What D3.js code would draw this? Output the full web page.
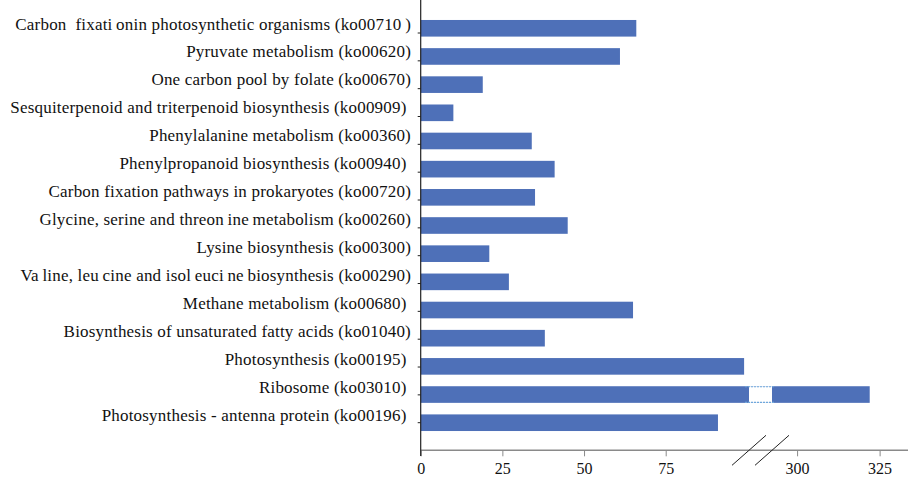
<!DOCTYPE html>
<html>
<head>
<meta charset="utf-8">
<script src="https://cdn.jsdelivr.net/npm/d3@7"></script>
<style>
  body { margin: 0; background: #fff; }
  text { font-family: "Liberation Serif", "Times New Roman", serif; fill: #111; }
</style>
</head>
<body>
<svg id="chart" width="909" height="477"></svg>
<script>
// pathway labels, top to bottom (odd gaps of the original kept as thin spaces)
var pathways = [
    "Carbon  fixati\u2009onin photosynthetic organisms (ko00710\u2009)",
    "Pyruvate metabolism (ko00620)",
    "One carbon pool by folate (ko00670)",
    "Sesquiterpenoid and triterpenoid biosynthesis (ko00909) ",
    "Phenylalanine metabolism (ko00360)",
    "Phenylpropanoid biosynthesis (ko00940) ",
    "Carbon fixation pathways in prokaryotes (ko00720)",
    "Glycine, serine and threon\u2009ine\u2009metabolism (ko00260)",
    "Lysine biosynthesis (ko00300)",
    "Va\u2009line, leu\u2009cine and isol\u2009euci\u2009ne\u2009biosynthesis (ko00290)",
    "Methane metabolism (ko00680) ",
    "Biosynthesis of unsaturated fatty acids (ko01040)",
    "Photosynthesis (ko00195) ",
    "Ribosome (ko03010) ",
    "Photosynthesis - antenna protein (ko00196) "
];
var geneCounts = [66, 61, 19, 10, 34, 41, 35, 45, 21, 27, 65, 38, 99, 322, 91];
var xTicks = [0, 25, 50, 75, 300, 325];
// broken axis: 100.5 .. 292.4 is skipped
var breakFrom = 100.5, breakTo = 292.4;

var svg = d3.select("#chart");
var barColor = "#4E70B8";

// piecewise scale with the gap in the middle
var x = d3.scaleLinear()
    .domain([0, breakFrom, breakTo, 333.6])
    .range([420.7, 749, 772, 908]);

var y = d3.scaleBand()
    .domain(pathways)
    .range([14.2, 436.8])
    .paddingInner(0.41)
    .paddingOuter(0.205);

// labels and tick marks sit on a slightly different pitch than bars
var yLabel = d3.scalePoint().domain(pathways).range([29.5, 421]);
var yTick = d3.scalePoint().domain(pathways).range([33, 422.7]);

var data = pathways.map(function(p, i) { return {name: p, v: geneCounts[i]}; });

// bars
svg.append("g").selectAll("rect")
    .data(data)
    .enter()
    .append("rect")
    .attr("x", x(0))
    .attr("y", d => y(d.name))
    .attr("width", d => x(d.v) - x(0))
    .attr("height", y.bandwidth())
    .attr("fill", barColor);

// the gap in the long bar (dotted edges)
var longBars = data.filter(d => d.v > breakTo);
var gap = svg.append("g");
gap.selectAll(".gapfill").data(longBars).enter().append("rect")
    .attr("x", x(breakFrom))
    .attr("y", d => y(d.name))
    .attr("width", x(breakTo) - x(breakFrom))
    .attr("height", y.bandwidth())
    .attr("fill", "#fff");
gap.selectAll(".gaptop").data(longBars).enter().append("line")
    .attr("x1", x(breakFrom) - 4).attr("x2", x(breakTo) + 2)
    .attr("y1", d => y(d.name) + 0.5).attr("y2", d => y(d.name) + 0.5)
    .attr("stroke", "#6fa8dc").attr("stroke-width", 1.2)
    .attr("stroke-dasharray", "2,1");
gap.selectAll(".gapbot").data(longBars).enter().append("line")
    .attr("x1", x(breakFrom) - 4).attr("x2", x(breakTo) + 2)
    .attr("y1", d => y(d.name) + y.bandwidth() - 0.5).attr("y2", d => y(d.name) + y.bandwidth() - 0.5)
    .attr("stroke", "#6fa8dc").attr("stroke-width", 1.2)
    .attr("stroke-dasharray", "2,1");

// x axis
var axisY = 450.3;
var xAxis = d3.axisBottom(x).tickValues(xTicks).tickSize(6).tickPadding(6);
var gx = svg.append("g").attr("transform", "translate(0," + axisY + ")").call(xAxis);
gx.select(".domain").attr("d", "M" + x(0) + ",0H908").attr("stroke", "#8a8a8a").attr("stroke-width", 1.5);
gx.selectAll(".tick line").attr("stroke", "#8a8a8a").attr("stroke-width", 1);
gx.selectAll(".tick text")
    .attr("font-family", "Liberation Serif, Times New Roman, serif")
    .attr("font-size", 16).attr("fill", "#111");

// break marks
var slashes = [breakFrom, breakTo];
svg.append("g").selectAll("line")
    .data(slashes)
    .enter()
    .append("line")
    .attr("x1", d => x(d) - 17).attr("y1", axisY + 15)
    .attr("x2", d => x(d) + 17).attr("y2", axisY - 15)
    .attr("stroke", "#222").attr("stroke-width", 1);

// y axis line and ticks
svg.append("line")
    .attr("x1", x(0)).attr("x2", x(0))
    .attr("y1", 0).attr("y2", 456)
    .attr("stroke", "#222").attr("stroke-width", 1.2);
svg.append("g").selectAll("line")
    .data(pathways)
    .enter()
    .append("line")
    .attr("x1", x(0) - 3).attr("x2", x(0))
    .attr("y1", d => yTick(d)).attr("y2", d => yTick(d))
    .attr("stroke", "#222").attr("stroke-width", 1);

// category labels
svg.append("g").selectAll("text")
    .data(pathways)
    .enter()
    .append("text")
    .attr("x", 411)
    .attr("y", d => yLabel(d))
    .attr("text-anchor", "end")
    .attr("font-size", 17)
    .attr("letter-spacing", 0.2)
    .style("white-space", "pre")
    .attr("xml:space", "preserve")
    .text(d => d);
</script>
</body>
</html>
